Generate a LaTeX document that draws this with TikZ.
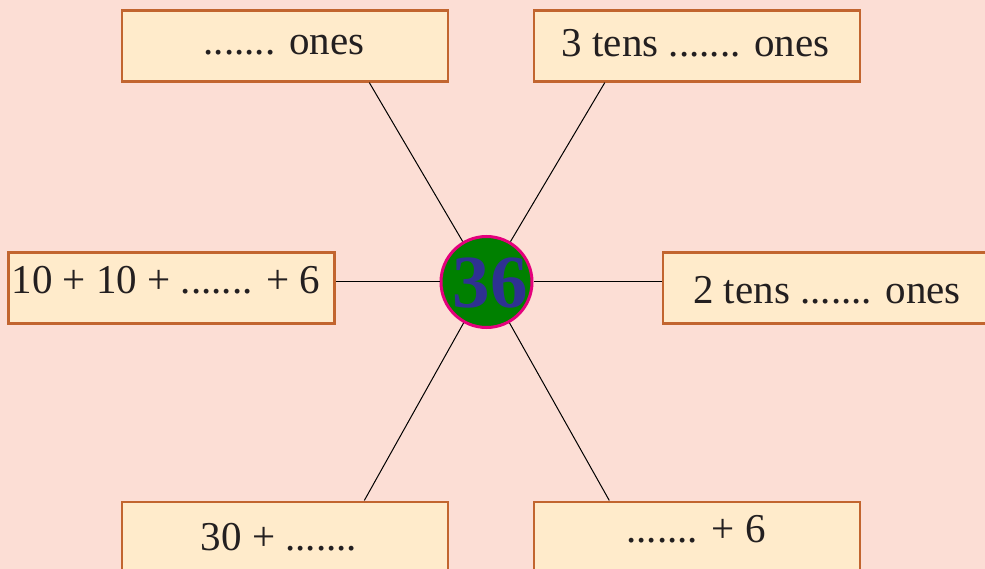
\documentclass[tikz,border=0pt]{standalone}
\usepackage{fontspec}
\setmainfont{Liberation Serif}
\definecolor{bgc}{HTML}{FCDED5}
\definecolor{boxfill}{HTML}{FFEBCB}
\definecolor{boxline}{HTML}{C2652F}
\definecolor{txt}{HTML}{231F20}
\definecolor{ringc}{HTML}{E4007C}
\definecolor{discc}{HTML}{008000}
\definecolor{numc}{HTML}{2E3192}
\tikzset{
  labelbox/.style={draw=boxline, line width=2.6pt, fill=boxfill, minimum width=326pt, minimum height=71pt, inner sep=0pt, anchor=north west},
  labeltext/.style={anchor=base, text=txt, font=\fontsize{41}{48}\selectfont, inner sep=0pt},
  spoke/.style={draw=black, line width=1pt}
}
\begin{document}
\begin{tikzpicture}[x=1pt,y=-1pt]
\fill[bgc] (0,0) rectangle (985,569);
\useasboundingbox (0,0) rectangle (985,569);
% boxes
\node[labelbox] (tl) at (120.5,9) {};
\node[labelbox] (tr) at (532.5,9) {};
\node[labelbox] (ml) at (7,251) {};
\node[labelbox] (mr) at (661.5,251) {};
\node[labelbox] (bl) at (120.5,500.5) {};
\node[labelbox] (br) at (532.5,500.5) {};
% texts
\node[labeltext] (ttl) at (284,55) {....... ones};
\node[labeltext] (ttr) at (695.5,57) {3 tens ....... ones};
\node[labeltext] (tml) at (166,294) {10 + 10 + ....... + 6};
\node[labeltext] (tmr) at (827,303) {2 tens ....... ones};
\node[labeltext] (tbl) at (279,550) {30 + .......};
\node[labeltext] (tbr) at (696,542) {....... + 6};
% centre disc
\node[circle, draw=ringc, line width=3pt, fill=discc, minimum size=91pt, inner sep=0pt] (c) at (486.5,282) {};
\node[anchor=base, inner sep=0pt, text=numc, font=\fontsize{75}{80}\selectfont\bfseries] (n36) at (490,308) {36};
% spokes
\draw[spoke] (c) -- ([xshift=84.5pt]tl.south);
\draw[spoke] (c) -- ([xshift=-92pt]tr.south);
\draw[spoke] (c) -- (ml.east |- c);
\draw[spoke] (c) -- (mr.west |- c);
\draw[spoke] (c) -- ([xshift=79.5pt]bl.north);
\draw[spoke] (c) -- ([xshift=-87.5pt]br.north);
\end{tikzpicture}
\end{document}
